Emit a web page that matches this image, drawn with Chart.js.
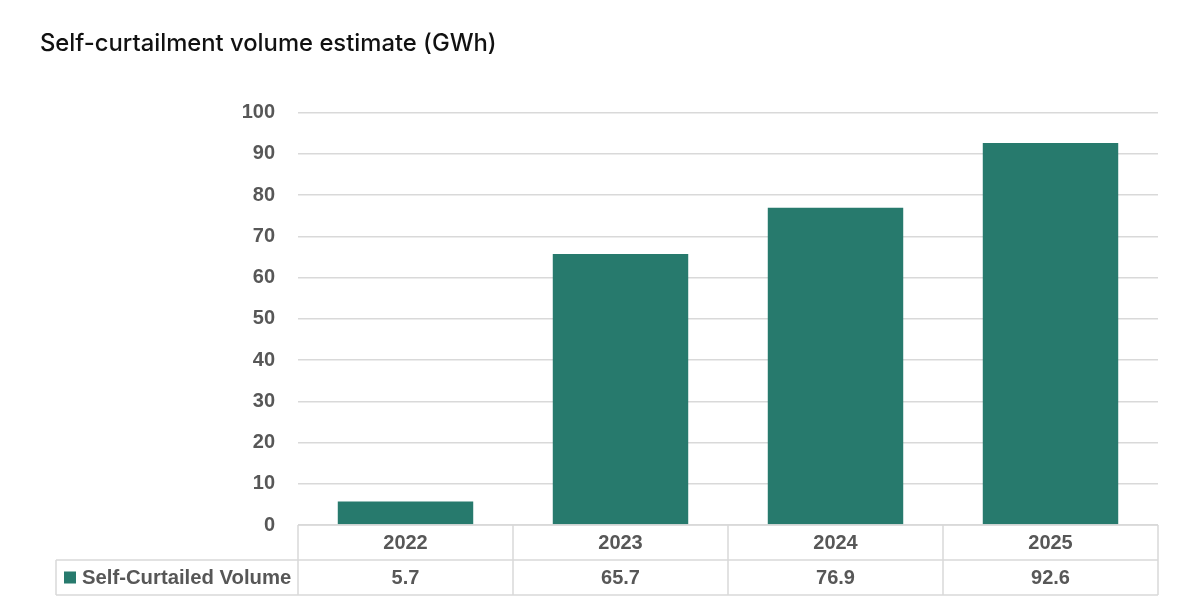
<!DOCTYPE html>
<html>
<head>
<meta charset="utf-8">
<script src="https://cdn.jsdelivr.net/npm/chart.js@4"></script>
<style>
  html, body { margin: 0; padding: 0; background: #ffffff; }
  #wrap { width: 1200px; height: 613px; position: relative; }
</style>
</head>
<body>
<div id="wrap"><canvas id="c" width="1200" height="613"></canvas></div>
<script>
const titleText = "Self-curtailment volume estimate (GWh)";
const categories = ["2022", "2023", "2024", "2025"];
const seriesName = "Self-Curtailed Volume";
const seriesValues = [5.7, 65.7, 76.9, 92.6];
const yTicks = [0, 10, 20, 30, 40, 50, 60, 70, 80, 90, 100];

const barColor = "#277A6D";
const textColor = "#575757";
const gridColor = "#d9d9d9";
const tickFont = { family: "'Liberation Sans', Arial, sans-serif", size: 20, weight: "bold" };

const dataTablePlugin = {
  id: "dataTable",
  afterDraw(chart) {
    const ctx = chart.ctx;
    const area = chart.chartArea;
    const x = chart.scales.x;
    const rowH = 35;
    const tableLeft = 56;
    const top = area.bottom;
    const mid = top + rowH;
    const bottom = mid + rowH;
    const colW = (area.right - area.left) / categories.length;
    ctx.save();
    ctx.strokeStyle = gridColor;
    ctx.lineWidth = 1.5;
    ctx.beginPath();
    ctx.moveTo(area.left, top); ctx.lineTo(area.right, top);
    ctx.moveTo(tableLeft, mid); ctx.lineTo(area.right, mid);
    ctx.moveTo(tableLeft, bottom); ctx.lineTo(area.right, bottom);
    ctx.moveTo(tableLeft, mid); ctx.lineTo(tableLeft, bottom);
    for (let i = 0; i <= categories.length; i++) {
      const vx = area.left + i * colW;
      ctx.moveTo(vx, top); ctx.lineTo(vx, bottom);
    }
    ctx.stroke();

    ctx.fillStyle = textColor;
    ctx.font = "bold 20px 'Liberation Sans', Arial, sans-serif";
    ctx.textAlign = "center";
    ctx.textBaseline = "middle";
    categories.forEach((c, i) => {
      const cx = x.getPixelForValue(i);
      ctx.fillText(c, cx, top + rowH / 2 + 1);
      ctx.fillText(seriesValues[i].toFixed(1), cx, mid + rowH / 2 + 1);
    });
    ctx.fillStyle = barColor;
    ctx.fillRect(64, mid + rowH / 2 - 6, 12, 12);
    ctx.fillStyle = textColor;
    ctx.textAlign = "left";
    ctx.font = "bold 20.3px 'Liberation Sans', Arial, sans-serif";
    ctx.fillText(seriesName, 82, mid + rowH / 2 + 1);
    ctx.restore();
  }
};

new Chart(document.getElementById("c"), {
  type: "bar",
  data: {
    labels: categories,
    datasets: [{
      label: seriesName,
      data: seriesValues,
      backgroundColor: barColor,
      borderWidth: 0,
      barPercentage: 1.0,
      categoryPercentage: 0.63
    }]
  },
  options: {
    responsive: false,
    animation: false,
    devicePixelRatio: 1,
    layout: { padding: { left: 40, right: 42, top: 0, bottom: 88 } },
    plugins: {
      legend: { display: false },
      tooltip: { enabled: false },
      title: {
        display: true,
        text: titleText,
        align: "start",
        color: "#111111",
        font: { family: "Inter, 'Noto Sans', sans-serif", size: 23.8, weight: "500", lineHeight: 1.2 },
        padding: { top: 30, bottom: 54 }
      }
    },
    scales: {
      x: {
        display: false,
        offset: true
      },
      y: {
        min: 0,
        max: 100,
        afterBuildTicks(scale) {
          scale.ticks = yTicks.map(v => ({ value: v }));
        },
        afterFit(scale) { scale.width = 258; },
        border: { display: false },
        grid: { color: gridColor, lineWidth: 1.5, drawTicks: false },
        ticks: {
          color: textColor,
          font: tickFont,
          padding: 23
        }
      }
    }
  },
  plugins: [dataTablePlugin]
});
</script>
</body>
</html>
